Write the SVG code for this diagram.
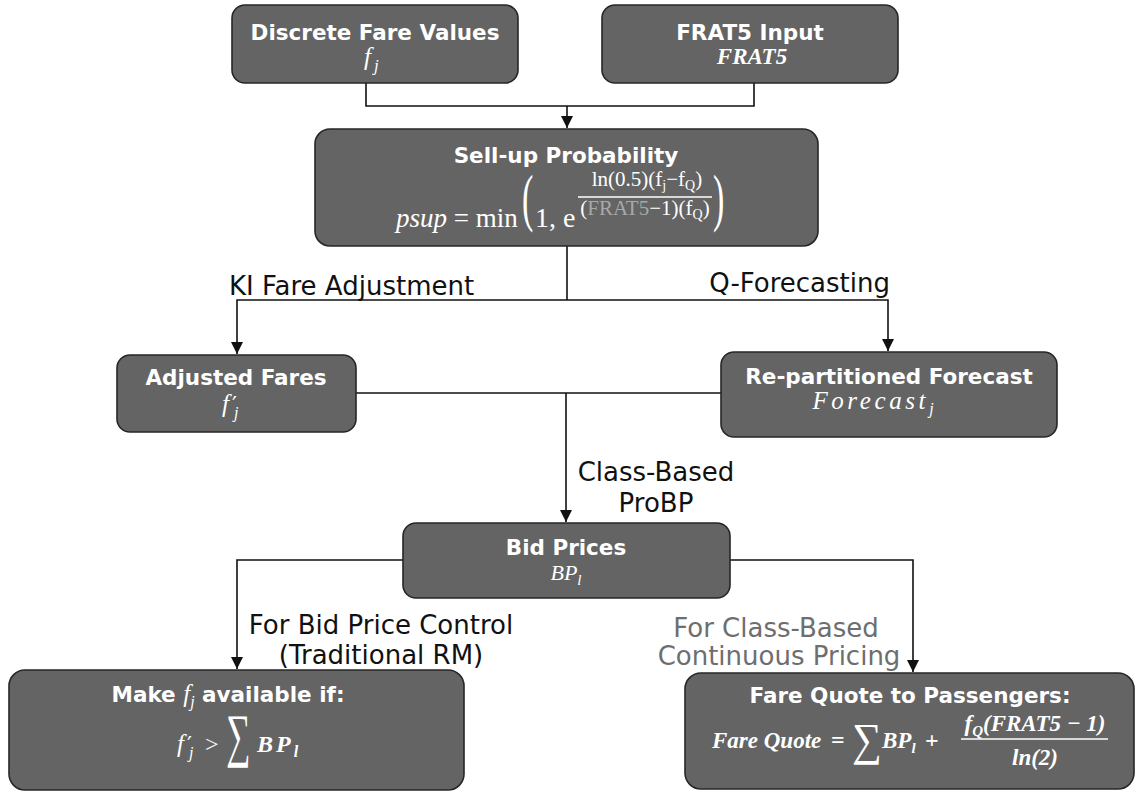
<svg xmlns="http://www.w3.org/2000/svg" width="1136" height="792" viewBox="0 0 1136 792">
<defs>
<style>
.box{fill:#646464;stroke:#262626;stroke-width:1.6}
.t{font-family:"DejaVu Sans",Verdana,sans-serif;font-weight:bold;font-size:21.5px;fill:#fff;text-anchor:middle}
.m{font-family:"Liberation Serif","DejaVu Serif",serif;font-style:italic;fill:#fff}
.r{font-family:"Liberation Serif","DejaVu Serif",serif;fill:#fff}
.pr{font-family:"DejaVu Serif",serif;font-style:normal;font-size:22px}
.lbl{font-family:"DejaVu Sans",sans-serif;font-size:26px;fill:#111}
.gray{fill:#6e6e6e}
.conn{stroke:#111;stroke-width:1.6;fill:none}
</style>
<marker id="arr" markerUnits="userSpaceOnUse" markerWidth="14" markerHeight="14" viewBox="0 0 14 14" refX="12" refY="7" orient="auto">
<path d="M0,1 L12,7 L0,13 Z" fill="#111"/>
</marker>
</defs>
<rect width="1136" height="792" fill="#fff"/>

<g id="connectors">
<path class="conn" d="M366,83 V106 H754 V83"/>
<path class="conn" d="M567,106 V128" marker-end="url(#arr)"/>
<path class="conn" d="M567,246 V300"/>
<path class="conn" d="M567,300 H237 V354" marker-end="url(#arr)"/>
<path class="conn" d="M567,300 H888 V351" marker-end="url(#arr)"/>
<path class="conn" d="M356,393 H721"/>
<path class="conn" d="M566,393 V522" marker-end="url(#arr)"/>
<path class="conn" d="M403,560 H237 V669" marker-end="url(#arr)"/>
<path class="conn" d="M730,560 H913 V672" marker-end="url(#arr)"/>
<text class="lbl" x="229" y="295">KI Fare Adjustment</text>
<text class="lbl" x="890" y="292" text-anchor="end">Q-Forecasting</text>
<text class="lbl" x="656" y="481" text-anchor="middle">Class-Based</text>
<text class="lbl" x="656" y="512" text-anchor="middle">ProBP</text>
<text class="lbl" x="381" y="634" text-anchor="middle">For Bid Price Control</text>
<text class="lbl" x="381" y="664" text-anchor="middle">(Traditional RM)</text>
<text class="lbl gray" x="776" y="637" text-anchor="middle">For Class-Based</text>
<text class="lbl gray" x="779" y="665" text-anchor="middle">Continuous Pricing</text>
</g>

<g id="discrete-fare-values">
<rect class="box" x="232" y="5" width="286" height="78" rx="13"/>
<text class="t" x="375" y="40">Discrete Fare Values</text>
<text class="m" x="364" y="65" font-size="25">f<tspan font-size="17" dx="3" dy="6">j</tspan></text>
</g>

<g id="frat5-input">
<rect class="box" x="602" y="5" width="296" height="78" rx="13"/>
<text class="t" x="750" y="40">FRAT5 Input</text>
<text class="m" x="752" y="64" font-size="23" font-weight="bold" text-anchor="middle">FRAT5</text>
</g>

<g id="sell-up-probability">
<rect class="box" x="315" y="129" width="503" height="117" rx="15"/>
<text class="t" x="566" y="163">Sell-up Probability</text>
<text x="396" y="227" font-size="27" class="r"><tspan class="m">psup</tspan> = min</text>
<text class="r" font-size="34" transform="translate(522,219) scale(1,1.85)">(</text>
<text class="r" x="535" y="227" font-size="28">1, e</text>
<text class="r" x="647" y="186" font-size="21" text-anchor="middle">ln(0.5)(f<tspan font-size="14" dy="4">j</tspan><tspan dy="-4">−f</tspan><tspan font-size="14" dy="4">Q</tspan><tspan dy="-4">)</tspan></text>
<line x1="578" y1="197" x2="712" y2="197" stroke="#fff" stroke-width="1.3"/>
<text class="r" x="645" y="215" font-size="21" text-anchor="middle">(<tspan fill="#a8a8a8">FRAT5</tspan>−1)(f<tspan font-size="14" dy="4">Q</tspan><tspan dy="-4">)</tspan></text>
<text class="r" font-size="34" transform="translate(713,219) scale(1,1.85)">)</text>
</g>

<g id="adjusted-fares">
<rect class="box" x="117" y="355" width="239" height="77" rx="13"/>
<text class="t" x="236" y="385">Adjusted Fares</text>
<text class="m" x="222" y="412" font-size="25">f<tspan class="pr" dx="3">′</tspan><tspan font-size="16" x="234" dy="6">j</tspan></text>
</g>

<g id="re-partitioned-forecast">
<rect class="box" x="721" y="352" width="336" height="85" rx="13"/>
<text class="t" x="889" y="384">Re-partitioned Forecast</text>
<text class="m" x="873" y="409" font-size="25" letter-spacing="3.6" text-anchor="middle">Forecast<tspan font-size="16" dy="5" letter-spacing="0">j</tspan></text>
</g>

<g id="bid-prices">
<rect class="box" x="403" y="523" width="327" height="75" rx="13"/>
<text class="t" x="566" y="555">Bid Prices</text>
<text class="m" x="566" y="580" font-size="22" text-anchor="middle">BP<tspan font-size="15" dy="5">l</tspan></text>
</g>

<g id="make-available">
<rect class="box" x="9" y="670" width="455" height="120" rx="16"/>
<text class="t" x="228" y="702">Make <tspan class="m" font-weight="normal" font-size="25">f</tspan><tspan class="m" font-weight="normal" font-size="16" dy="5">j</tspan><tspan dy="-5"> available if:</tspan></text>
<text class="m" x="177" y="752" font-size="25">f<tspan class="pr" dx="3">′</tspan><tspan font-size="16" x="189" dy="6">j</tspan></text>
<text class="r" x="205" y="752" font-size="24">&gt;</text>
<text class="r" font-size="38" transform="translate(226,755) scale(0.9,1.55)">∑</text>
<text class="m" x="257" y="752" font-size="24" font-weight="bold" letter-spacing="3">BP<tspan font-size="16" dy="5" letter-spacing="0">l</tspan></text>
</g>

<g id="fare-quote">
<rect class="box" x="685" y="673" width="449" height="116" rx="16"/>
<text class="t" x="910" y="703">Fare Quote to Passengers:</text>
<text class="m" x="712" y="748" font-size="23" font-weight="bold">Fare Quote</text>
<text class="r" x="831" y="748" font-size="24" font-weight="bold">=</text>
<text class="r" font-size="38" transform="translate(852,755) scale(1.1,1.2)">∑</text>
<text class="m" x="882" y="748" font-size="23" font-weight="bold">BP<tspan font-size="15" dy="5">l</tspan></text>
<text class="r" x="925" y="748" font-size="24" font-weight="bold">+</text>
<text class="m" x="1035" y="731" font-size="23" font-weight="bold" text-anchor="middle">f<tspan font-size="15" dy="5">Q</tspan><tspan dy="-5">(FRAT5 − 1)</tspan></text>
<line x1="961" y1="739" x2="1108" y2="739" stroke="#fff" stroke-width="1.5"/>
<text class="m" x="1035" y="765" font-size="23" font-weight="bold" text-anchor="middle">ln(2)</text>
</g>
</svg>
